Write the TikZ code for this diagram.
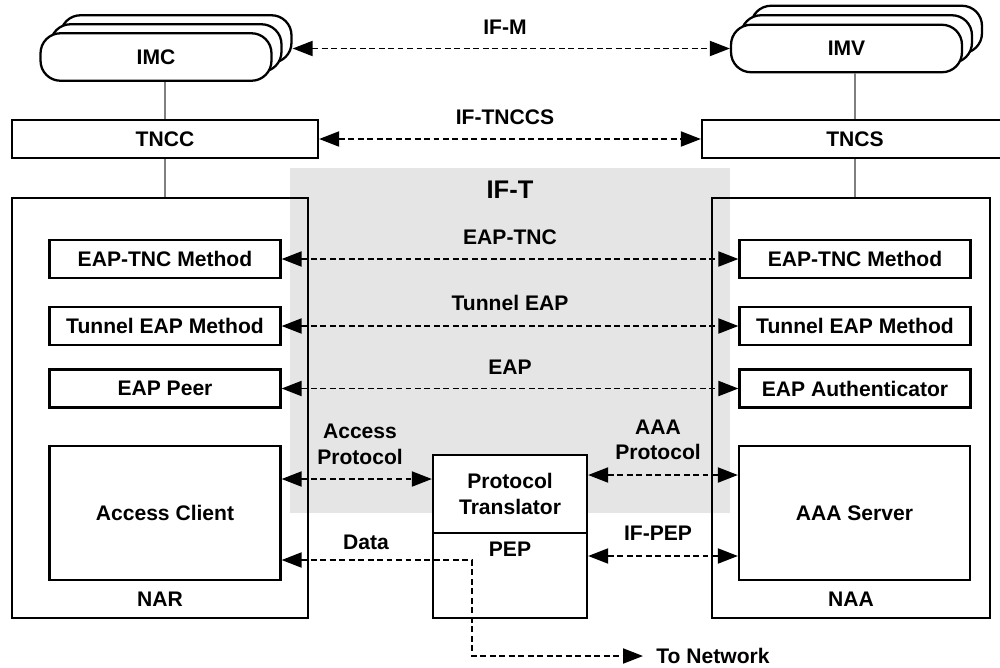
\documentclass[tikz,border=0pt]{standalone}
\usepackage{fontspec}
\setmainfont{Liberation Sans}
\usepackage{tikz}
\usetikzlibrary{arrows.meta, positioning, calc}
\definecolor{LinkGray}{HTML}{808080}
\definecolor{ZoneGray}{HTML}{E5E5E5}
\tikzset{
  % Box styles
  stackbox/.style={rectangle, rounded corners=0.4cm, draw, line width=1.3pt, fill=white, minimum width=4.62cm, minimum height=0.95cm},
  tncbox/.style={rectangle, draw, line width=1.3pt, fill=white, minimum width=6.12cm, minimum height=0.77cm},
  hostbox/.style={rectangle, draw, line width=1.3pt, minimum height=8.4cm},
  methodbox/.style={rectangle, draw, line width=1.3pt, fill=white, minimum width=4.62cm, minimum height=0.76cm},
  clientbox/.style={rectangle, draw, line width=1.3pt, fill=white, minimum width=4.62cm, minimum height=2.68cm},
  pepbox/.style={rectangle, draw, line width=1.3pt, fill=white, minimum width=3.08cm, align=center},
  % Arrow styles
  ifarrow/.style={<->, >={Triangle[length=0.4cm, width=0.3cm]}, line width=1.1pt, dash pattern=on 3.4pt off 2pt},
  link/.style={LinkGray, line width=0.8pt},
  % Label styles
  iflabel/.style={align=center, inner sep=1pt}
}

\begin{document}
\begin{tikzpicture}[x=0.02cm, y=-0.02cm, font=\fontsize{12}{14.5}\selectfont\bfseries]
  \clip (0,0) rectangle (1000,667);

  % IF-T zone
  \fill[ZoneGray] (290,168) rectangle (730,513);
  \node[font=\fontsize{14.5}{16}\selectfont\bfseries] (ift) at (510,190) {IF-T};

  % IMC / IMV stacks
  \node[stackbox] (imcB) at (176,39) {};
  \node[stackbox] (imcM) at (166,48) {};
  \node[stackbox] (imcF) at (156,57) {IMC};
  \node[stackbox] (imvB) at (866.5,29.5) {};
  \node[stackbox] (imvM) at (856.5,39) {};
  \node[stackbox] (imvF) at (846.5,48.5) {IMV};

  % TNC client / server
  \node[tncbox] (tncc) at (165,139) {TNCC};
  \node[tncbox] (tncs) at (855,139) {TNCS};

  % Host boxes
  \node[hostbox, minimum width=5.92cm] (nar) at (160,408) {};
  \node (narlbl) at ([yshift=0.4cm]nar.south) {NAR};
  \node[hostbox, minimum width=5.56cm] (naa) at (851,408) {};
  \node (naalbl) at ([yshift=0.4cm]naa.south) {NAA};

  % Left stack
  \node[methodbox] (tncL) at (165,259) {EAP-TNC Method};
  \node[methodbox] (tunL) at (165,326) {Tunnel EAP Method};
  \node[methodbox] (peer) at (165,388.5) {EAP Peer};
  \node[clientbox] (acc) at (165,513) {Access Client};

  % Right stack
  \node[methodbox] (tncR) at (855,259) {EAP-TNC Method};
  \node[methodbox] (tunR) at (855,326) {Tunnel EAP Method};
  \node[methodbox] (auth) at (855,388.5) {EAP Authenticator};
  \node[clientbox] (aaa) at (854.5,513) {AAA Server};

  % Protocol translator and PEP
  \node[pepbox, minimum height=1.56cm] (ptr) at (510,494) {Protocol\\Translator};
  \node[pepbox, minimum height=1.7cm, anchor=north, text depth=1.05cm] (pep) at ([yshift=1.3pt]ptr.south) {PEP};

  % Gray links
  \draw[link] (tncc.north) -- (tncc.north |- imcF.south);
  \draw[link] (tncc.south) -- (tncc.south |- nar.north);
  \draw[link] (tncs.north) -- (tncs.north |- imvF.south);
  \draw[link] (tncs.south) -- (tncs.south |- naa.north);

  % Interfaces
  \draw[ifarrow] (imvF.west -| imcB.east) -- (imvF.west);
  \node[iflabel] (ifm) at (505,27) {IF-M};
  \draw[ifarrow] (tncc.east) -- (tncs.west);
  \node[iflabel] (iftnccs) at (505,117) {IF-TNCCS};
  \draw[ifarrow] (tncL.east) -- (tncR.west);
  \node[iflabel] (eaptnc) at (510,237) {EAP-TNC};
  \draw[ifarrow] (tunL.east) -- (tunR.west);
  \node[iflabel] (tuneap) at (510,303) {Tunnel EAP};
  \draw[ifarrow] (peer.east) -- (auth.west);
  \node[iflabel] (eap) at (510,367) {EAP};

  % Access side
  \draw[ifarrow] ([yshift=0.3cm]ptr.west -| acc.east) -- ([yshift=0.3cm]ptr.west);
  \node[iflabel] (accproto) at (360,444.5) {Access\\Protocol};
  \draw[ifarrow] ([yshift=0.38cm]ptr.east) -- ([yshift=0.38cm]ptr.east -| aaa.west);
  \node[iflabel] (aaaproto) at (658,440) {AAA\\Protocol};
  \draw[ifarrow] ([yshift=0.39cm]pep.east) -- ([yshift=0.39cm]pep.east -| aaa.west);
  \node[iflabel] (ifpep) at (658,533) {IF-PEP};

  % Data path
  \node[anchor=west, inner sep=0pt] (tonet) at (656,656) {To Network};
  \coordinate (datacorner) at (472,560);
  \draw[ifarrow] (acc.east |- datacorner) -- (datacorner) |- ([xshift=-0.26cm]tonet.west);
  \node[iflabel] (data) at (366,542) {Data};
\end{tikzpicture}
\end{document}
